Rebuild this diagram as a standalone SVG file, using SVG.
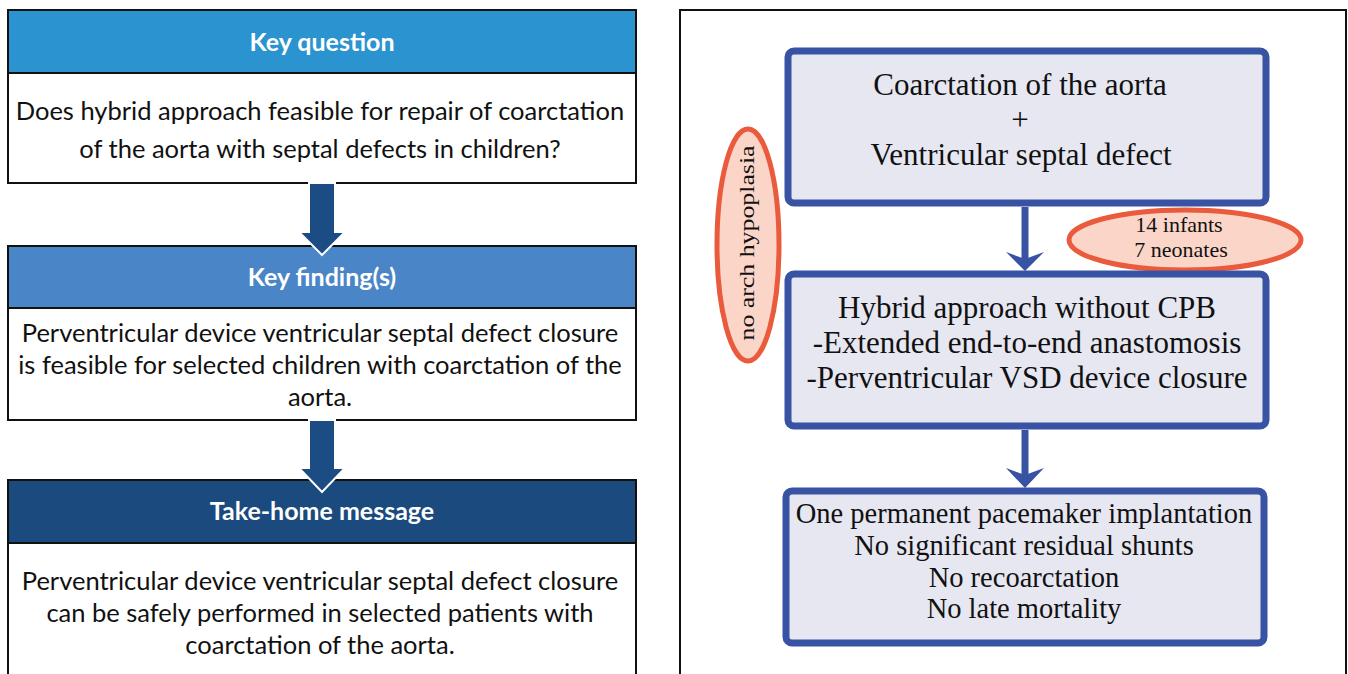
<svg xmlns="http://www.w3.org/2000/svg" width="1348" height="674" viewBox="0 0 1348 674">
<style>
.hdr{font-family:Lato,"Liberation Sans",sans-serif;font-weight:bold;font-size:25px;fill:#fff;text-anchor:middle}
.body{font-family:Lato,"Liberation Sans",sans-serif;font-size:25.5px;fill:#111;text-anchor:middle}
.frame{fill:#fff;stroke:#111;stroke-width:2}
.larrow{fill:#1c4c84;stroke:#fff;stroke-width:2;stroke-linejoin:miter}
.rbox{fill:#e7e7f1;stroke:#3853a4;stroke-width:7}
.rt{font-family:"Liberation Serif","Times New Roman",serif;font-size:31px;fill:#111;text-anchor:middle}
.rc{font-family:"Liberation Serif","Times New Roman",serif;font-size:28.5px;fill:#111;text-anchor:middle}
.et{font-family:"Liberation Serif","Times New Roman",serif;font-size:22px;fill:#111;text-anchor:middle}
.oval{fill:#fbd6c8;stroke:#ea5a3c;stroke-width:5}
.rline{stroke:#3853a4;stroke-width:7;fill:none}
.rhead{fill:#3853a4}
</style>
<rect width="1348" height="674" fill="#fff"/>

<!-- Left panel -->
<g id="key-question">
  <rect x="8" y="10" width="628" height="63" fill="#2b93cf" stroke="#111" stroke-width="2"/>
  <rect x="8" y="73" width="628" height="110" class="frame"/>
  <text class="hdr" x="322" y="51">Key question</text>
  <text class="body" x="320" y="120">Does hybrid approach feasible for repair of coarctation</text>
  <text class="body" x="320" y="158">of the aorta with septal defects in children?</text>
</g>
<g id="key-findings">
  <rect x="8" y="246" width="628" height="62" fill="#4a85c7" stroke="#111" stroke-width="2"/>
  <rect x="8" y="308" width="628" height="112" class="frame"/>
  <text class="hdr" x="322" y="286">Key finding(s)</text>
  <text class="body" x="320" y="342">Perventricular device ventricular septal defect closure</text>
  <text class="body" x="320" y="374">is feasible for selected children with coarctation of the</text>
  <text class="body" x="320" y="406">aorta.</text>
</g>
<g id="take-home">
  <rect x="8" y="480" width="628" height="63" fill="#1b4a7e" stroke="#111" stroke-width="2"/>
  <path d="M8 543 V676 M636 543 V676 M8 543 H636" stroke="#111" stroke-width="2" fill="none"/>
  <text class="hdr" x="322" y="520">Take-home message</text>
  <text class="body" x="320" y="590">Perventricular device ventricular septal defect closure</text>
  <text class="body" x="320" y="622">can be safely performed in selected patients with</text>
  <text class="body" x="320" y="654">coarctation of the aorta.</text>
</g>

<!-- Right panel frame -->
<rect id="right-panel" x="680" y="10" width="666" height="670" fill="#fff" stroke="#111" stroke-width="2"/>

<g id="connectors">
  <polygon class="larrow" points="309,183 335,183 335,232 345,232 322,255 299,232 309,232"/>
  <polygon class="larrow" points="309,420 335,420 335,468 345,468 322,492 299,468 309,468"/>
  <line class="rline" x1="1025" y1="207" x2="1025" y2="262"/>
  <polygon class="rhead" points="1006,252 1025,259 1044,252 1025,271"/>
  <line class="rline" x1="1025" y1="430" x2="1025" y2="478"/>
  <polygon class="rhead" points="1006,468 1025,475 1044,468 1025,488"/>
</g>

<g id="coarctation">
  <rect class="rbox" x="788" y="51" width="478" height="152" rx="6"/>
  <text class="rt" x="1020" y="95">Coarctation of the aorta</text>
  <text class="rt" x="1020" y="130">+</text>
  <text class="rt" x="1021" y="165">Ventricular septal defect</text>
</g>
<g id="infants">
  <ellipse class="oval" cx="1185" cy="240" rx="116" ry="30"/>
  <text class="et" x="1179" y="232">14 infants</text>
  <text class="et" x="1181" y="257">7 neonates</text>
</g>
<g id="arch">
  <ellipse class="oval" cx="748" cy="245" rx="31" ry="116"/>
  <text class="et" transform="translate(754,243) rotate(-90)" x="0" y="0" font-size="24" textLength="195" lengthAdjust="spacingAndGlyphs">no arch hypoplasia</text>
</g>
<g id="hybrid">
  <rect class="rbox" x="788" y="274" width="478" height="152" rx="6"/>
  <text class="rt" x="1027" y="318">Hybrid approach without CPB</text>
  <text class="rt" x="1027" y="353">-Extended end-to-end anastomosis</text>
  <text class="rt" x="1027" y="388">-Perventricular VSD device closure</text>
</g>
<g id="outcomes">
  <rect class="rbox" x="786" y="491" width="478" height="152" rx="6"/>
  <text class="rc" x="1024" y="523">One permanent pacemaker implantation</text>
  <text class="rc" x="1024" y="555">No significant residual shunts</text>
  <text class="rc" x="1024" y="587">No recoarctation</text>
  <text class="rc" x="1024" y="618">No late mortality</text>
</g>
</svg>
